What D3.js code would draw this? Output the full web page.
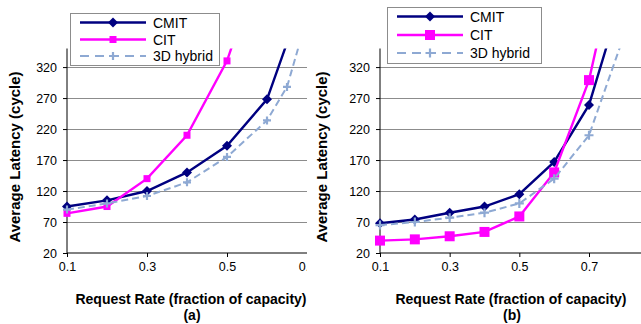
<!DOCTYPE html>
<html>
<head>
<meta charset="utf-8">
<script src="https://cdn.jsdelivr.net/npm/d3@7"></script>
<style>
  body { margin: 0; background: #fff; }
  svg { display: block; font-family: Arial, "Liberation Sans", sans-serif; }
  .tick text { font-size: 12.5px; fill: #000; }
</style>
</head>
<body>
<svg id="chart"></svg>
<script>
const WIDTH = 641;
const HEIGHT = 324;

const SERIES_NAMES = ['CMIT', 'CIT', '3D hybrid'];
const Y_TICKS = [20, 70, 120, 170, 220, 270, 320];
const X_TICKS = [0.1, 0.3, 0.5, 0.7];

// panel (a)
const A_RATES = [0.1, 0.2, 0.3, 0.4, 0.5, 0.6, 0.7];
const A_CMIT = [95, 105, 120, 150, 193, 268, 450];
const A_CIT = [84, 95, 140, 210, 330, 520];
const A_HYBRID_RATES = [0.1, 0.2, 0.3, 0.4, 0.5, 0.6, 0.65, 0.7];
const A_HYBRID = [90, 100, 112, 134, 175, 234, 288, 400];

// panel (b)
const B_RATES = [0.1, 0.2, 0.3, 0.4, 0.5, 0.6, 0.7, 0.8];
const B_CMIT = [68, 74, 85, 95, 115, 167, 259, 445];
const B_CIT = [40, 42, 47, 54, 79, 150, 299, 550];
const B_HYBRID = [65, 70, 77, 85, 100, 140, 210, 370];

const COLORS = ['#000080', '#ff00ff', '#8ea9d3'];

let svg = d3.select('#chart')
    .attr('width', WIDTH)
    .attr('height', HEIGHT);

// draw a marker of type k (0 diamond, 1 square, 2 plus) at (x, y)
function marker(g, k, x, y, s) {
    if (k === 0) {
        let h = s / 2;
        g.append('path')
            .attr('d', `M${x},${y - h}L${x + h},${y}L${x},${y + h}L${x - h},${y}Z`)
            .attr('fill', COLORS[0]);
    } else if (k === 1) {
        g.append('rect')
            .attr('x', x - s / 2).attr('y', y - s / 2)
            .attr('width', s).attr('height', s)
            .attr('fill', COLORS[1]);
    } else {
        g.append('path')
            .attr('d', `M${x - s / 2},${y}H${x + s / 2}M${x},${y - s / 2}V${y + s / 2}`)
            .attr('stroke', COLORS[2])
            .attr('stroke-width', 2.2)
            .attr('fill', 'none');
    }
}

function makePanel(opt) {
    let id = opt.id;
    let x = d3.scaleLinear().domain([0.1, 0.7]).range([opt.x0, opt.x1]);
    let y = d3.scaleLinear().domain([20, 350]).range([253, 48.5]);

    let defs = svg.append('defs');
    defs.append('clipPath').attr('id', 'panel-' + id)
        .append('rect').attr('x', opt.left).attr('y', 0)
        .attr('width', opt.right - opt.left).attr('height', HEIGHT);
    defs.append('clipPath').attr('id', 'plot-' + id)
        .append('rect').attr('x', opt.x0 - 8).attr('y', 48.5)
        .attr('width', opt.right - opt.x0 + 8).attr('height', 253 - 48.5 + 6);

    let panel = svg.append('g').attr('clip-path', `url(#panel-${id})`);

    // gridlines
    panel.append('g')
        .selectAll('line')
        .data(Y_TICKS.slice(1))
        .enter().append('line')
        .attr('x1', opt.x0).attr('x2', opt.right)
        .attr('y1', d => Math.round(y(d)) + 0.5).attr('y2', d => Math.round(y(d)) + 0.5)
        .attr('stroke', '#8c8c8c')
        .attr('stroke-width', 1.2);

    let yAxis = d3.axisLeft(y).tickValues(Y_TICKS).tickSize(4).tickPadding(6);
    panel.append('g')
        .attr('transform', `translate(${opt.x0},0)`)
        .call(yAxis)
        .call(g => g.select('.domain').attr('d', `M0,48.5V253`).attr('stroke', '#000'));

    let xAxis = d3.axisBottom(x).tickValues(X_TICKS).tickSize(4).tickPadding(5)
        .tickFormat(d3.format('.1f'));
    panel.append('g')
        .attr('transform', 'translate(0,253)')
        .call(xAxis)
        .call(g => g.select('.domain').attr('d', `M${opt.x0},0H${opt.right}`).attr('stroke', '#000'))
        .call(g => g.selectAll('.tick line').attr('stroke', '#000'));

    let plot = panel.append('g').attr('clip-path', `url(#plot-${id})`);
    let line = d3.line().x(d => x(d[0])).y(d => y(d[1]));

    opt.series.forEach((s, k) => {
        let pts = s.rates.map((r, i) => [r, s.values[i]]).filter(p => p[1] !== undefined);
        plot.append('path')
            .datum(pts)
            .attr('d', line)
            .attr('fill', 'none')
            .attr('stroke', COLORS[k])
            .attr('stroke-width', k === 2 ? 2 : 2.4)
            .attr('stroke-dasharray', k === 2 ? '7,4' : null);
        let mg = plot.append('g');
        pts.forEach(p => marker(mg, k, x(p[0]), y(p[1]), opt.msize[k]));
    });

    // axis titles
    panel.append('text')
        .attr('transform', `translate(${opt.ytitleX},157) rotate(-90)`)
        .attr('text-anchor', 'middle')
        .attr('dominant-baseline', 'central')
        .style('font-size', '15px')
        .style('font-weight', 'bold')
        .text('Average Latency (cycle)');
    panel.append('text')
        .attr('x', opt.titleX).attr('y', 304)
        .attr('text-anchor', 'middle')
        .style('font-size', '14px')
        .style('font-weight', 'bold')
        .text('Request Rate (fraction of capacity)');
    panel.append('text')
        .attr('x', opt.titleX + 1).attr('y', 320)
        .attr('text-anchor', 'middle')
        .style('font-size', '14px')
        .style('font-weight', 'bold')
        .text(opt.label);

    // legend
    let lg = panel.append('g');
    let L = opt.legend;
    lg.append('rect')
        .attr('x', L.x + 0.5).attr('y', L.y + 0.5)
        .attr('width', L.w).attr('height', L.h)
        .attr('fill', '#fff')
        .attr('stroke', '#8c8c8c');
    SERIES_NAMES.forEach((name, k) => {
        let ly = L.rows[k];
        lg.append('line')
            .attr('x1', L.lx0).attr('x2', L.lx1)
            .attr('y1', ly).attr('y2', ly)
            .attr('stroke', COLORS[k])
            .attr('stroke-width', k === 2 ? 2 : 2.4)
            .attr('stroke-dasharray', k === 2 ? '9,6' : null);
        marker(lg, k, (L.lx0 + L.lx1) / 2, ly, opt.lsize[k]);
        lg.append('text')
            .attr('x', L.tx).attr('y', ly)
            .attr('dominant-baseline', 'central')
            .style('font-size', '14px')
            .text(name);
    });
}

makePanel({
    id: 'a', left: 0, right: 307, x0: 67, x1: 307,
    ytitleX: 14, titleX: 191, label: '(a)',
    msize: [10, 7, 8], lsize: [10, 7, 8],
    legend: { x: 70, y: 13, w: 149, h: 52, rows: [22.5, 39.5, 56], lx0: 80, lx1: 146, tx: 153 },
    series: [
        { rates: A_RATES, values: A_CMIT },
        { rates: A_RATES, values: A_CIT },
        { rates: A_HYBRID_RATES, values: A_HYBRID },
    ],
});

makePanel({
    id: 'b', left: 312, right: 641, x0: 380, x1: 589,
    ytitleX: 321, titleX: 511, label: '(b)',
    msize: [10, 10, 9], lsize: [10, 10, 9],
    legend: { x: 387, y: 7, w: 154, h: 56, rows: [16.5, 35, 53], lx0: 397, lx1: 463, tx: 470 },
    series: [
        { rates: B_RATES, values: B_CMIT },
        { rates: B_RATES, values: B_CIT },
        { rates: B_RATES, values: B_HYBRID },
    ],
});
</script>
</body>
</html>
